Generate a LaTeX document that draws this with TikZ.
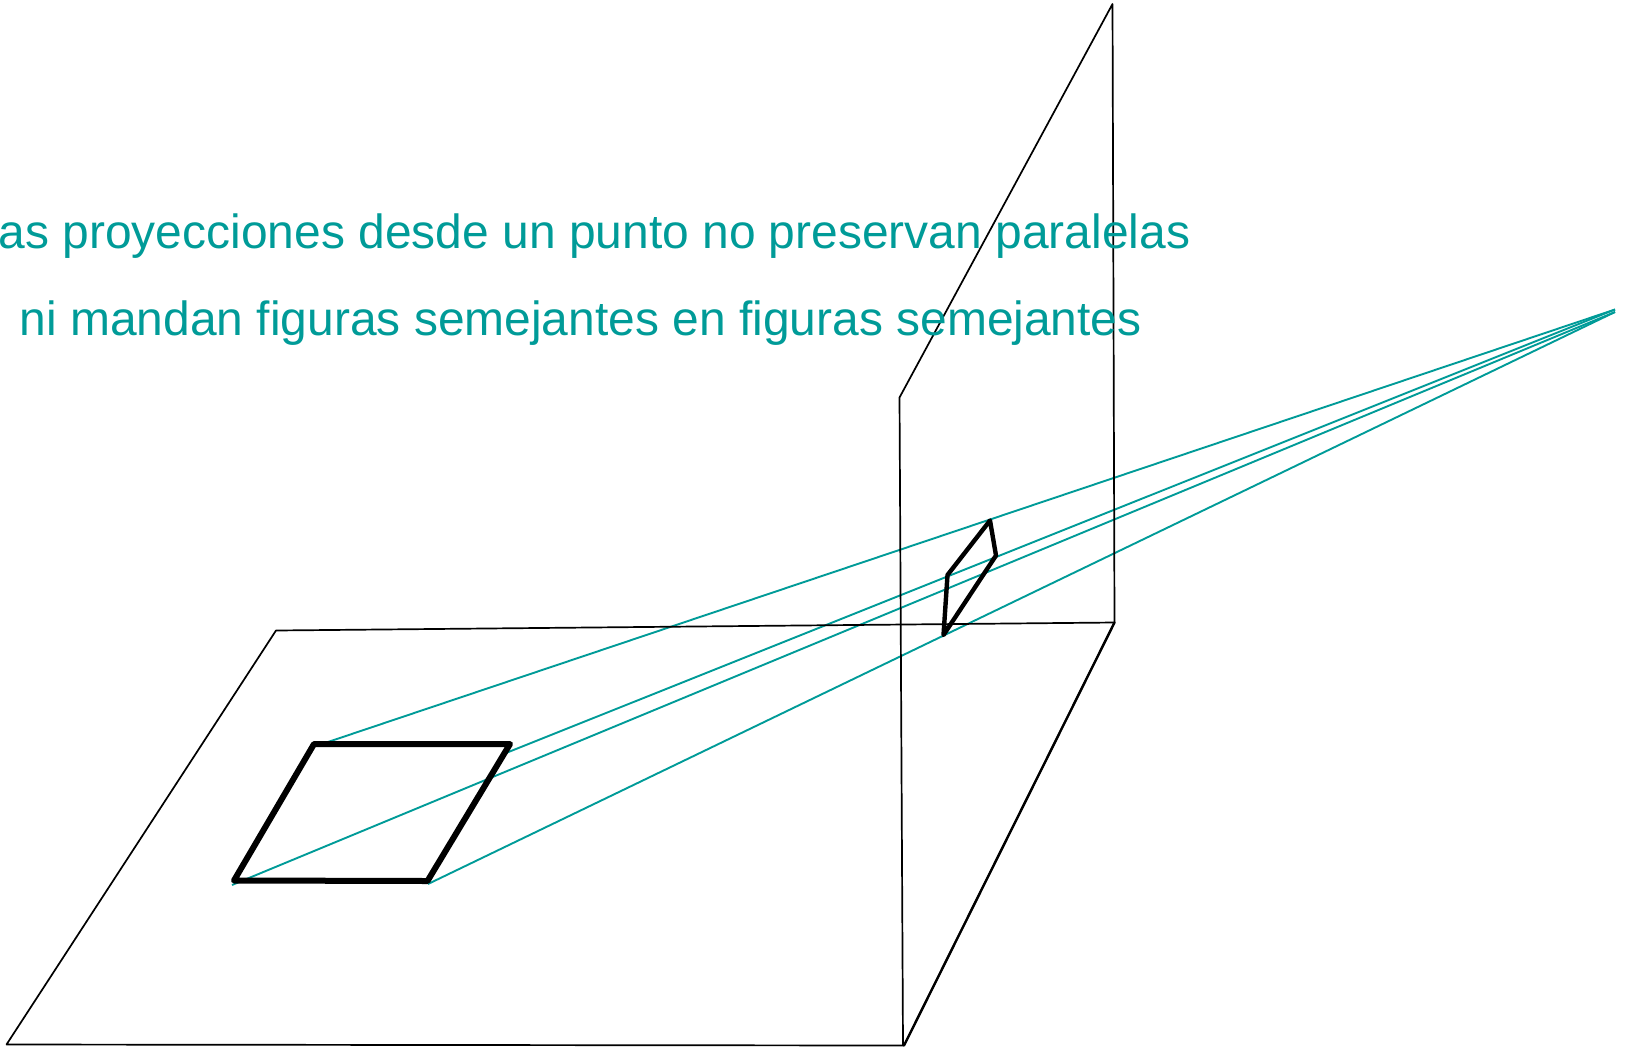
\documentclass[tikz,border=0pt]{standalone}
\usepackage{fontspec}
\setmainfont{Liberation Sans}
\definecolor{tealc}{HTML}{009B98}
\tikzset{
  planeline/.style={draw=black,line width=1.7pt,line join=round},
  edgeline/.style={draw=black,line width=2.4pt,line cap=round},
  bigquad/.style={draw=black,line width=6pt,line join=round},
  smallquad/.style={draw=black,line width=4.4pt,line join=round},
  ray/.style={draw=tealc,line width=1.9pt},
  caption/.style={text=tealc,font=\fontsize{47.95}{56}\selectfont,inner sep=0pt}
}
\begin{document}
\begin{tikzpicture}[x=1pt,y=-1pt]
\useasboundingbox (0,0) rectangle (1627,1047);
% ground plane
\coordinate (g1) at (6.5,1044.5);
\coordinate (g2) at (276,630.5);
\coordinate (g3) at (1114.5,622.5);
\coordinate (g4) at (904,1045.5);
% vertical plane
\coordinate (v1) at (903,1045.5);
\coordinate (v2) at (899.5,397.5);
\coordinate (v3) at (1112.5,4);
% large quad
\coordinate (a) at (314,744);
\coordinate (b) at (510,744);
\coordinate (c) at (427.5,881);
\coordinate (d) at (234,880.5);
% small quad
\coordinate (p) at (990,520.5);
\coordinate (q) at (996,555.5);
\coordinate (r) at (943.5,635);
\coordinate (s) at (947.5,575);
% apex
\coordinate (o) at (1615,309.5);
\coordinate (o2) at (1615,312);
% ray starts
\coordinate (ra) at (316,746);
\coordinate (rb) at (506,753);
\coordinate (rc) at (428,884);
\coordinate (rd) at (232,885);
% rays
\draw[ray] (ra) -- (o);
\draw[ray] (rb) -- (o);
\draw[ray] (rd) -- (o2);
\draw[ray] (rc) -- (o2);
% planes
\draw[planeline] (g1) -- (g2) -- (g3) -- (g4) -- cycle;
\draw[planeline] (v1) -- (v2) -- (v3) -- (g3);
\draw[edgeline] (g3) -- (g4);
% quads
\draw[bigquad] (a) -- (b) -- (c) -- (d) -- cycle;
\draw[smallquad] (p) -- (q) -- (r) -- (s) -- cycle;
% text
\node[caption,anchor=base east] (t1) at (1190.5,248) {as proyecciones desde un punto no preservan paralelas};
\node[caption,anchor=base east] (t2) at (1142,335) {ni mandan figuras semejantes en figuras semejantes};
\end{tikzpicture}
\end{document}
